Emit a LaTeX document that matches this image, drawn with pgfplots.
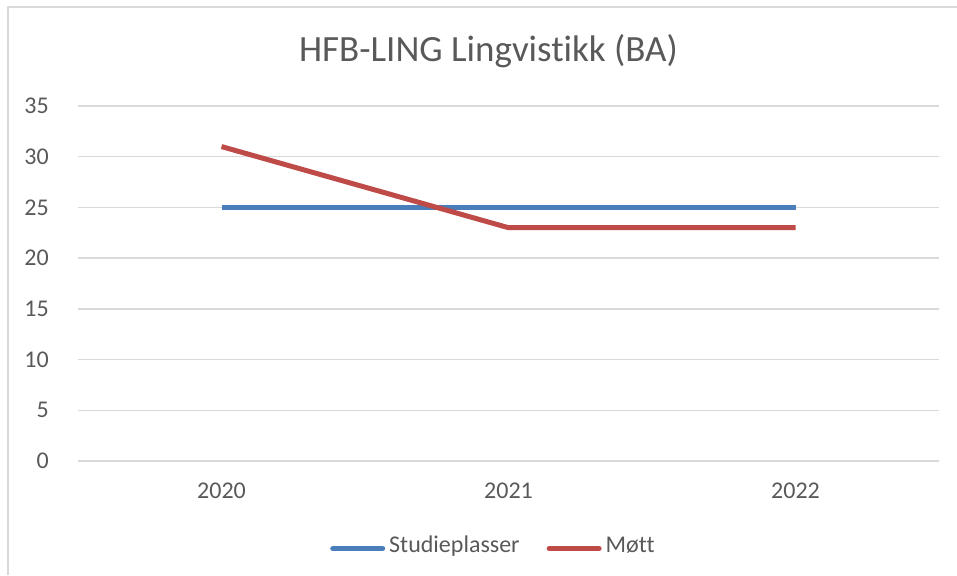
\documentclass[border=0pt]{standalone}
\usepackage{fontspec}
\setmainfont{Carlito}[RawFeature={-liga;-dlig;-clig}]
\usepackage{pgfplots}
\pgfplotsset{compat=1.18}
\definecolor{cblue}{HTML}{4A7EBB}
\definecolor{cred}{HTML}{BE4B48}
\definecolor{ctext}{HTML}{595959}
\definecolor{cgrid}{HTML}{D9D9D9}
\begin{document}
\begin{tikzpicture}[x=1pt,y=1pt]
\path[use as bounding box] (0,0) rectangle (957,575);
\draw[cgrid, line width=1.5pt] (8,0) -- (8,568) -- (957,568);
\node[anchor=base, text=ctext, font=\fontsize{37}{44}\selectfont, inner sep=0pt] at (488.5,513) {HFB-LING Lingvistikk (BA)};
\begin{axis}[
  at={(78pt,114pt)}, anchor=south west,
  scale only axis, width=861pt, height=355pt,
  xmin=-0.5, xmax=2.5, ymin=0, ymax=35,
  xtick={0,1,2}, xticklabels={2020,2021,2022},
  ytick={0,5,...,35},
  /pgf/number format/assume math mode=true,
  axis line style={draw=none},
  major tick style={draw=none},
  ymajorgrids, grid style={cgrid, line width=1.5pt},
  tick label style={text=ctext, font=\fontsize{24}{28}\selectfont},
  yticklabel style={anchor=east, inner sep=0pt, xshift=-29pt},
  xticklabel style={anchor=north, inner sep=0pt, yshift=-22pt},
  legend columns=2,
  legend style={at={(0.2927,-0.2366)}, anchor=west, draw=none, fill=none, inner sep=0pt,
    font=\fontsize{24}{28}\selectfont, text=ctext,
    nodes={inner sep=0pt, anchor=base west},
    /tikz/every odd column/.append style={column sep=4pt},
    /tikz/every even column/.append style={column sep=27pt}},
  legend image code/.code={\draw[#1, line width=5.5pt, line cap=round] (2.75pt,0.4em) -- (52.25pt,0.4em);},
]
\addplot[cblue, line width=5pt] coordinates {(0,25) (1,25) (2,25)};
\addlegendentry{Studieplasser}
\addplot[cred, line width=5pt] coordinates {(0,31) (1,23) (2,23)};
\addlegendentry{Møtt}
\end{axis}
\end{tikzpicture}
\end{document}
